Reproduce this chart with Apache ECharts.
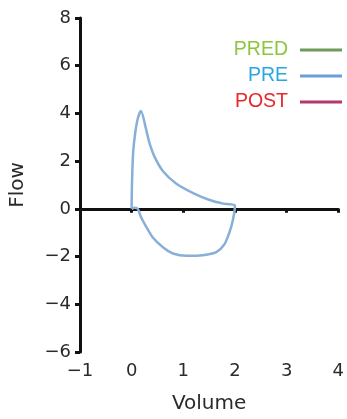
<!DOCTYPE html>
<html>
<head>
<meta charset="utf-8">
<script src="https://cdn.jsdelivr.net/npm/echarts@6/dist/echarts.min.js"></script>
<style>html,body{margin:0;padding:0;background:#fff;}#c{width:347px;height:419px;}</style>
</head>
<body>
<div id="c"></div>
<script>
const seriesNames = ['PRED', 'PRE', 'POST'];
const seriesColors = ['#6e9a5c', '#6b9fd8', '#b5376e'];
const legendTextColors = ['#8cc63f', '#29a8e0', '#e8272a'];
// PRE flow-volume loop
const preVolume = [0.00, 0.00, 0.01, 0.03, 0.07, 0.12, 0.18, 0.28, 0.34, 0.44, 0.60, 0.86, 1.19, 1.51, 1.77, 2.00,
  1.96, 1.90, 1.80, 1.64, 1.38, 1.06, 0.80, 0.60, 0.41, 0.28, 0.18, 0.12, 0.06, 0.00];
const preFlow = [0.00, 0.13, 1.33, 2.40, 3.20, 3.80, 4.10, 3.33, 2.80, 2.20, 1.60, 1.06, 0.66, 0.37, 0.22, 0.13,
  -0.47, -0.94, -1.47, -1.81, -1.94, -1.97, -1.87, -1.60, -1.20, -0.74, -0.34, 0.00, 0.05, 0.00];
const predVolume = [];
const predFlow = [];
const postVolume = [];
const postFlow = [];
const xTicks = [-1, 0, 1, 2, 3, 4];
const yTicks = [-6, -4, -2, 0, 2, 4, 6, 8];

const minus = v => String(v).replace('-', '\u2212');
const zip = (a, b) => a.map((v, i) => [v, b[i]]);
const chart = echarts.init(document.getElementById('c'));
const axisFont = { fontFamily: 'DejaVu Sans', fontSize: 18, color: '#2a2a2a' };
const nameFont = { fontFamily: 'DejaVu Sans', fontSize: 20, color: '#2a2a2a' };
chart.setOption({
  animation: false,
  grid: { left: 80, right: 8, top: 18, bottom: 54 },
  legend: {
    orient: 'vertical', right: 5, top: 40, align: 'right', padding: 0,
    icon: 'rect', itemWidth: 42, itemHeight: 3, itemGap: 6,
    textStyle: { fontFamily: 'Liberation Sans', fontSize: 19.5, lineHeight: 20, padding: [0, 7, 0, 0] },
    data: seriesNames.map((n, i) => ({ name: n, textStyle: { color: legendTextColors[i] } }))
  },
  xAxis: [{
    type: 'value', min: xTicks[0], max: xTicks[xTicks.length - 1], interval: 1,
    position: 'bottom',
    axisLine: { show: false, onZero: false }, axisTick: { show: false }, splitLine: { show: false },
    axisLabel: Object.assign({ margin: 10, formatter: minus }, axisFont),
    name: 'Volume', nameLocation: 'middle', nameGap: 42, nameTextStyle: nameFont
  }, {
    type: 'value', min: xTicks[0], max: xTicks[xTicks.length - 1], interval: 1,
    position: 'bottom',
    axisLine: { show: true, onZero: true, lineStyle: { color: '#111', width: 3 } },
    axisTick: { show: true, inside: false, length: 4, lineStyle: { color: '#111', width: 3 } },
    axisLabel: { show: false }, splitLine: { show: false }
  }],
  yAxis: {
    type: 'value', min: yTicks[0], max: yTicks[yTicks.length - 1], interval: 2,
    axisLine: { show: true, onZero: false, lineStyle: { color: '#111', width: 3 } },
    axisTick: { show: true, length: 5, lineStyle: { color: '#111', width: 3 } },
    splitLine: { show: false },
    axisLabel: Object.assign({ margin: 9, formatter: minus }, axisFont),
    name: 'Flow', nameLocation: 'middle', nameGap: 52, nameTextStyle: nameFont
  },
  series: [
    { name: seriesNames[0], type: 'line', symbol: 'none', color: seriesColors[0], lineStyle: { width: 3 }, data: zip(predVolume, predFlow) },
    { name: seriesNames[1], type: 'line', symbol: 'none', color: seriesColors[1], smooth: 0.25,
      lineStyle: { width: 2.5, color: '#88afd8' }, data: zip(preVolume, preFlow) },
    { name: seriesNames[2], type: 'line', symbol: 'none', color: seriesColors[2], lineStyle: { width: 3 }, data: zip(postVolume, postFlow) }
  ]
});
</script>
</body>
</html>
